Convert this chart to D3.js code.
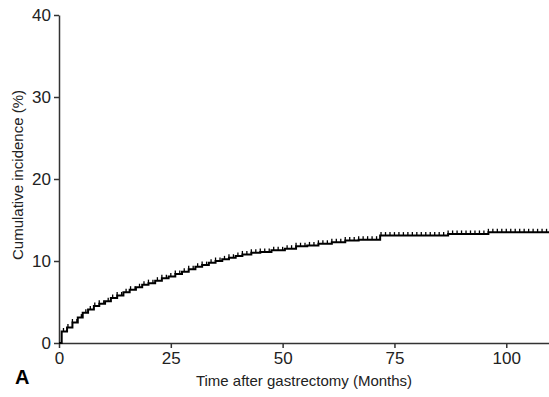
<!doctype html>
<html>
  <head>
    <meta charset="utf-8">
    <script src="https://cdn.jsdelivr.net/npm/d3@7"></script>
    <style>
      body { margin: 0; background: #fff; }
      svg { display: block; font-family: 'Liberation Sans', Arial, sans-serif; }
      .axis path, .axis line { stroke: #333; stroke-width: 1.5; }
      .axis text { fill: #222; font-size: 17px; }
    </style>
  </head>
  <body>
    <svg class="chart"></svg>
  <script>

    // event times (months) and cumulative incidence (%)
    const eventTimes = [0, 0.6, 1.8, 3.0, 4.2, 5.3, 6.5, 7.8, 9.0, 10.3, 11.6, 13.0, 14.4, 15.8, 17.2, 18.6,
                        20.0, 21.5, 23.0, 24.5, 26.0, 27.5, 29.0, 30.5, 32.0, 33.5, 35.0, 36.5, 38.0, 39.5,
                        41.0, 43.0, 45.0, 47.5, 50.5, 53.0, 55.5, 58.0, 61.0, 64.0, 67.0, 71.8, 87.0, 96.0, 110]
    const incidence = [0, 1.4, 1.9, 2.5, 3.1, 3.7, 4.1, 4.5, 4.8, 5.1, 5.5, 5.8, 6.2, 6.5, 6.8, 7.1,
                       7.3, 7.6, 7.9, 8.1, 8.4, 8.7, 9.0, 9.3, 9.5, 9.8, 10.0, 10.2, 10.4, 10.6,
                       10.8, 11.0, 11.1, 11.3, 11.5, 11.8, 11.9, 12.1, 12.3, 12.5, 12.6, 13.1, 13.3, 13.5, 13.5]

    // censored observations (months)
    const censorTimes = [1, 2, 3, 4, 5, 6, 7, 8, 9, 10, 11, 12, 13, 14, 15, 16, 17, 18, 19, 20,
                         21, 22, 23, 24, 25, 26, 27, 28, 29, 30, 31, 32, 33, 34, 35, 36, 37, 38, 39, 40,
                         41, 42, 43, 44, 45, 46, 47, 48, 49, 50, 51, 52, 53, 54, 55, 56, 57, 58, 59, 60,
                         61, 62, 63, 64, 65, 66, 67, 68, 69, 70, 71, 72, 73, 74, 75, 76, 77, 78, 79, 80,
                         81, 82, 83, 84, 85, 86, 87, 88, 89, 90, 91, 92, 93, 94, 95, 96, 97, 98, 99, 100,
                         101, 102, 103, 104, 105, 106, 107, 108, 109]

    const xTicks = [0, 25, 50, 75, 100]
    const yTicks = [0, 10, 20, 30, 40]

    const width = 549, height = 397

    const svg = d3.select(".chart")
                  .attr("width", width)
                  .attr("height", height)

    const x = d3.scaleLinear().domain([0, 110]).range([59, 551])
    const y = d3.scaleLinear().domain([0, 40]).range([343, 15])

    svg.append("g")
        .attr("class", "axis")
        .attr("transform", "translate(0," + y(0) + ")")
        .call(d3.axisBottom(x).tickValues(xTicks).tickSize(5).tickSizeOuter(0).tickPadding(4))

    svg.append("g")
        .attr("class", "axis")
        .attr("transform", "translate(" + x(0) + ",0)")
        .call(d3.axisLeft(y).tickValues(yTicks).tickSize(5).tickSizeOuter(0).tickPadding(3))

    const data = eventTimes.map((t, i) => [t, incidence[i]])

    const line = d3.line()
                   .x(d => x(d[0]))
                   .y(d => y(d[1]))
                   .curve(d3.curveStepAfter)

    svg.append("path")
        .datum(data)
        .attr("fill", "none")
        .attr("stroke", "#000")
        .attr("stroke-width", 2)
        .attr("d", line)

    // step value at a given time
    const bisect = d3.bisector(d => d).right
    const stepValue = t => incidence[Math.max(0, bisect(eventTimes, t) - 1)]

    svg.append("g")
      .selectAll("line")
      .data(censorTimes)
      .enter().append("line")
        .attr("x1", d => x(d))
        .attr("x2", d => x(d))
        .attr("y1", d => y(stepValue(d)))
        .attr("y2", d => y(stepValue(d)) - 3.5)
        .attr("stroke", "#000")
        .attr("stroke-width", 1.3)

    svg.append("text")
        .attr("x", 304)
        .attr("y", 386)
        .attr("text-anchor", "middle")
        .style("font-size", "15px")
        .attr("fill", "#222")
        .text("Time after gastrectomy (Months)")

    svg.append("text")
        .attr("transform", "translate(23,175) rotate(-90)")
        .attr("text-anchor", "middle")
        .style("font-size", "15px")
        .attr("fill", "#222")
        .text("Cumulative incidence (%)")

    svg.append("text")
        .attr("x", 15)
        .attr("y", 384)
        .style("font-size", "20px")
        .style("font-weight", "bold")
        .attr("fill", "#000")
        .text("A")

  </script>
  </body>
</html>
